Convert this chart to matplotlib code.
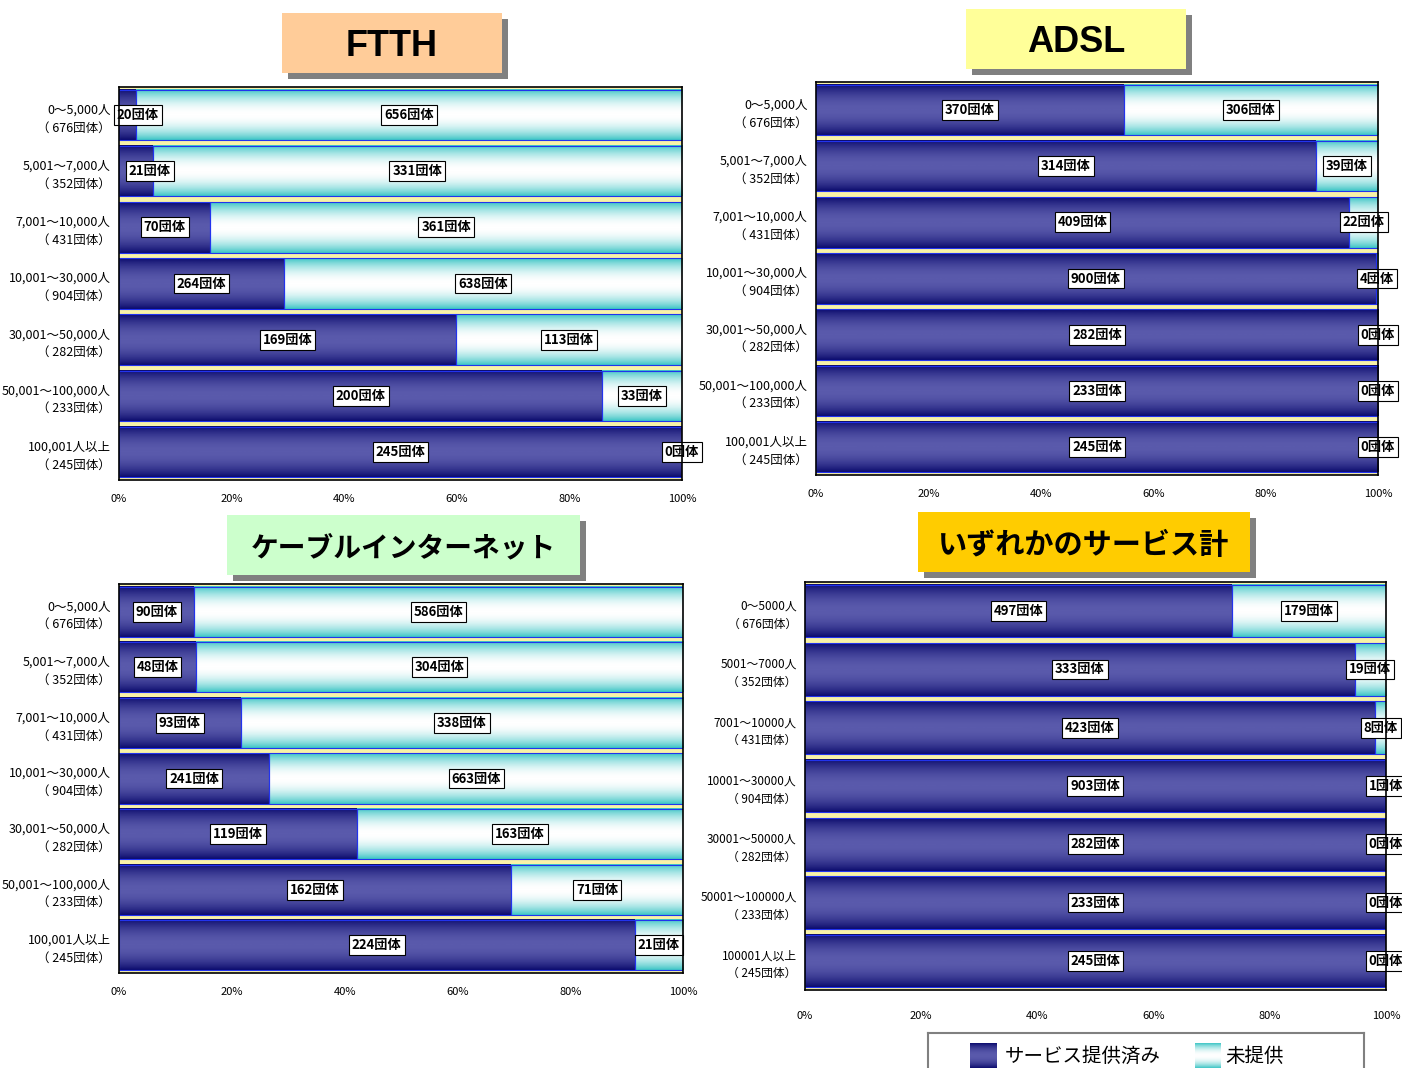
import numpy as np
import matplotlib.pyplot as plt
from matplotlib.colors import LinearSegmentedColormap
from matplotlib.patches import Rectangle

plt.rcParams['font.family'] = ['Noto Sans CJK JP', 'DejaVu Sans']

W, H = 1402, 1068

# population bands and number of municipalities per band
ranges = ["0～5,000人", "5,001～7,000人", "7,001～10,000人", "10,001～30,000人",
          "30,001～50,000人", "50,001～100,000人", "100,001人以上"]
ranges_plain = ["0～5000人", "5001～7000人", "7001～10000人", "10001～30000人",
                "30001～50000人", "50001～100000人", "100001人以上"]
totals = [676, 352, 431, 904, 282, 233, 245]

ftth_yes = [20, 21, 70, 264, 169, 200, 245]
ftth_no = [656, 331, 361, 638, 113, 33, 0]
adsl_yes = [370, 314, 409, 900, 282, 233, 245]
adsl_no = [306, 39, 22, 4, 0, 0, 0]
catv_yes = [90, 48, 93, 241, 119, 162, 224]
catv_no = [586, 304, 338, 663, 163, 71, 21]
any_yes = [497, 333, 423, 903, 282, 233, 245]
any_no = [179, 19, 8, 1, 0, 0, 0]

titles = ["FTTH", "ADSL", "ケーブルインターネット", "いずれかのサービス計"]
title_colors = ["#FFCC99", "#FFFF99", "#CCFFCC", "#FFCC00"]
legend_labels = ["サービス提供済み", "未提供"]
xtick_vals = [0, 0.2, 0.4, 0.6, 0.8, 1.0]

navy_cmap = LinearSegmentedColormap.from_list("navy", ["#0a0a6c", "#5a5aac"])
cyan_cmap = LinearSegmentedColormap.from_list("cyan", ["#38c4c4", "#ffffff"])
t = np.linspace(0, 1, 80)
grad = (np.sin(np.pi * t) ** 0.8).reshape(-1, 1)


def px_rect(x0, y0, x1, y1):
    return [x0 / W, 1 - y1 / H, (x1 - x0) / W, (y1 - y0) / H]


def draw_panel(ax, yes, no, tick_labels, tick_size):
    n = len(yes)
    h = 0.9
    for i in range(n):
        share = yes[i] / (yes[i] + no[i])
        y0, y1 = i - h / 2, i + h / 2
        ax.imshow(grad, cmap=navy_cmap, extent=[0, share, y1, y0],
                  aspect='auto', interpolation='bicubic', zorder=2)
        ax.add_patch(Rectangle((0, y0), share, h, fill=False,
                               ec="#2233ee", lw=0.8, zorder=3))
        if no[i] > 0:
            ax.imshow(grad, cmap=cyan_cmap, extent=[share, 1, y1, y0],
                      aspect='auto', interpolation='bicubic', zorder=2)
            ax.add_patch(Rectangle((share, y0), 1 - share, h, fill=False,
                                   ec="#2233ee", lw=0.8, zorder=3))
        box = dict(boxstyle='square,pad=0.22', fc='white', ec='black', lw=0.8)
        cx = share / 2
        # labels of very thin segments are pushed inside the plot area
        if cx < 0.02:
            ax.text(-0.004, i, f"{yes[i]}団体", ha='left', va='center',
                    fontsize=9.5, fontweight='bold', bbox=box, zorder=6)
        else:
            ax.text(max(cx, 0.055), i, f"{yes[i]}団体", ha='center', va='center',
                    fontsize=9.5, fontweight='bold', bbox=box, zorder=6)
        ax.text((1 + share) / 2, i, f"{no[i]}団体", ha='center', va='center',
                fontsize=9.5, fontweight='bold', bbox=box, zorder=6)

    ax.set_facecolor("#F8F2A8")
    ax.set_xlim(0, 1)
    ax.set_ylim(n - 0.5, -0.5)
    ax.set_yticks(range(n))
    ax.set_yticklabels([f"{r}\n（ {c}団体）" for r, c in zip(tick_labels, totals)],
                       fontsize=tick_size, linespacing=1.5)
    ax.set_xticks(xtick_vals)
    ax.set_xticklabels([f"{int(v * 100)}%" for v in xtick_vals], fontsize=8)
    ax.tick_params(axis='y', length=0, pad=6)
    ax.tick_params(axis='x', length=0, pad=10)
    for s in ax.spines.values():
        s.set_color('black')
        s.set_linewidth(1.2)
        s.set_zorder(7)


def title_box(fig, x0, y0, x1, y1, text, color, font, size, dy=0):
    fig.add_artist(Rectangle((x0 / W + 6 / W, 1 - (y1 + 6) / H),
                             (x1 - x0) / W, (y1 - y0) / H,
                             transform=fig.transFigure, fc="#808080", ec='none'))
    fig.add_artist(Rectangle((x0 / W, 1 - y1 / H), (x1 - x0) / W, (y1 - y0) / H,
                             transform=fig.transFigure, fc=color, ec='none'))
    fig.text((x0 + x1) / 2 / W, 1 - ((y0 + y1) / 2 + dy) / H, text, ha='center',
             va='center', fontsize=size, fontweight='bold', family=font)


fig = plt.figure(figsize=(W / 100, H / 100), dpi=100)

ax1 = fig.add_axes(px_rect(119, 87, 682, 480))
draw_panel(ax1, ftth_yes, ftth_no, ranges, 9)
ax2 = fig.add_axes(px_rect(816, 82, 1378, 475))
draw_panel(ax2, adsl_yes, adsl_no, ranges, 9)
ax3 = fig.add_axes(px_rect(119, 584, 683, 973))
draw_panel(ax3, catv_yes, catv_no, ranges, 9)
ax4 = fig.add_axes(px_rect(805, 582, 1386, 990))
draw_panel(ax4, any_yes, any_no, ranges_plain, 8.5)
ax4.tick_params(axis='x', pad=15)

latin = ['Liberation Sans', 'DejaVu Sans']
cjk = ['Noto Sans CJK JP', 'DejaVu Sans']
title_box(fig, 282, 13, 502, 73, titles[0], title_colors[0], latin, 26, dy=4)
title_box(fig, 966, 9, 1186, 69, titles[1], title_colors[1], latin, 26, dy=4)
title_box(fig, 227, 515, 580, 575, titles[2], title_colors[2], cjk, 20, dy=3)
title_box(fig, 918, 512, 1250, 572, titles[3], title_colors[3], cjk, 21, dy=3)

# legend drawn in its own box
lax = fig.add_axes(px_rect(928, 1033, 1364, 1085))
lax.set_xticks([])
lax.set_yticks([])
for s in lax.spines.values():
    s.set_color('#808080')
    s.set_linewidth(1.5)
lax.imshow(grad, cmap=navy_cmap, extent=[970, 997, 1068, 1043], aspect='auto', interpolation='bicubic')
lax.imshow(grad, cmap=cyan_cmap, extent=[1195, 1221, 1068, 1043], aspect='auto', interpolation='bicubic')
lax.text(1005, 1056, legend_labels[0], ha='left', va='center', fontsize=14)
lax.text(1225, 1056, legend_labels[1], ha='left', va='center', fontsize=14)
lax.set_xlim(928, 1364)
lax.set_ylim(1085, 1033)

fig.savefig("out.png", dpi=100)
